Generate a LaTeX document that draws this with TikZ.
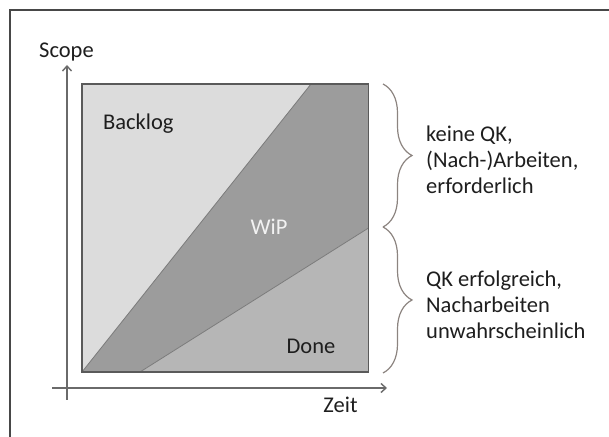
\documentclass[tikz,border=0pt]{standalone}
\usepackage{fontspec}
\setmainfont{Carlito}
\usepackage{xcolor}
\definecolor{frame}{HTML}{474747}
\definecolor{axis}{HTML}{6A6A6A}
\definecolor{edge}{HTML}{5A5A5A}
\definecolor{backfill}{HTML}{DCDCDC}
\definecolor{wipfill}{HTML}{9C9C9C}
\definecolor{donefill}{HTML}{B6B6B6}
\definecolor{bracecol}{HTML}{8C8480}
\definecolor{ink}{HTML}{1E1E1E}
\usepackage{tikz}
\usetikzlibrary{positioning,arrows.meta,decorations.pathreplacing}

\begin{document}
\begin{tikzpicture}[x=1bp,y=1bp,
  lbl/.style={font=\fontsize{22.5bp}{26bp}\selectfont,text=ink,inner sep=0pt},
  ax/.style={axis,line width=1.4bp,-{Straight Barb[length=5bp,width=9bp]}},
  brc/.style={bracecol,line width=1.2bp,decorate,decoration={brace,amplitude=29bp}}]
  \useasboundingbox (0,0) rectangle (609,437);
  % outer frame (cut off at right and bottom)
  \draw[frame,line width=2bp] (10,0) -- (10,426.5) -- (609,426.5);
  % regions
  \fill[backfill] (82,65) -- (311,353) -- (82,353) -- cycle;
  \fill[wipfill] (82,65) -- (311,353) -- (368.5,353) -- (368.5,209) -- (140,65) -- cycle;
  \fill[donefill] (140,65) -- (368.5,209) -- (368.5,65) -- cycle;
  \draw[edge!80,line width=0.8bp] (82,65) -- (311,353);
  \draw[edge!80,line width=0.8bp] (140,65) -- (368.5,209);
  \draw[edge,line width=1.5bp] (82,65) rectangle (368.5,353);
  % axes
  \coordinate (ybot) at (67,37);
  \coordinate (ytop) at (67,372);
  \coordinate (xleft) at (52,49);
  \coordinate (xright) at (387,49);
  \draw[ax] (ybot) -- (ytop);
  \draw[ax] (xleft) -- (xright);
  \node[lbl,anchor=base] (scopelbl) at (66.5,379) {Scope};
  \node[lbl,anchor=base] (zeitlbl) at (340.5,24.5) {Zeit};
  % labels in the square
  \node[lbl,anchor=base west] (backlog) at (103,307) {Backlog};
  \node[lbl,anchor=base,text=white!95!black] (wip) at (269,202) {WiP};
  \node[lbl,anchor=base] (done) at (311,83.5) {Done};
  % braces
  \coordinate (btop) at (383,353);
  \coordinate (bmid) at (383,210);
  \coordinate (bbot) at (383,64);
  \draw[brc] (btop) -- (bmid);
  \draw[brc] (bmid) -- (bbot);
  \node[lbl,anchor=west,align=left] (qkno) at (426,277.5) {keine QK,\\(Nach-)Arbeiten,\\erforderlich};
  \node[lbl,anchor=west,align=left] (qkok) at (426,132.5) {QK erfolgreich,\\Nacharbeiten\\unwahrscheinlich};
\end{tikzpicture}
\end{document}
